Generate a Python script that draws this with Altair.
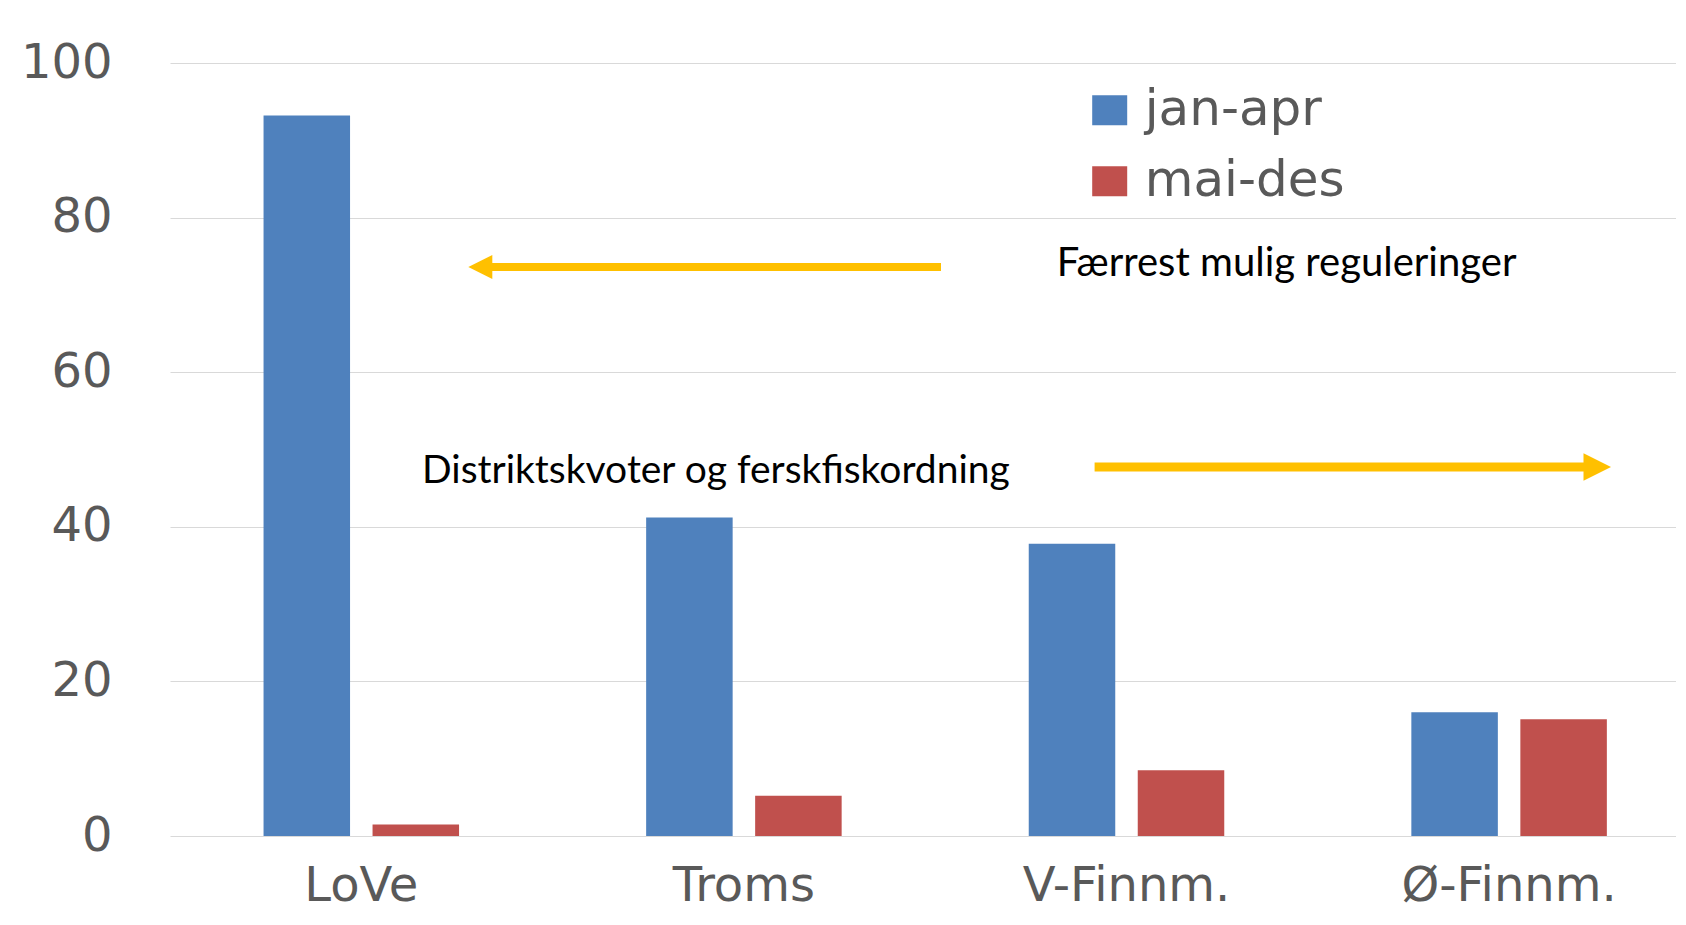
import altair as alt
import pandas as pd

# ---- data ----
regions = ["LoVe", "Troms", "V-Finnm.", "Ø-Finnm."]
periods = ["jan-apr", "mai-des"]
jan_apr = [93.2, 41.2, 37.8, 16.0]
mai_des = [1.5, 5.2, 8.5, 15.1]
y_ticks = [0, 20, 40, 60, 80, 100]

notes = ["Færrest mulig reguleringer", "Distriktskvoter og ferskfiskordning"]
note_levels = [72.4, 45.7]      # text baselines, in axis units
arrow_levels = [73.6, 47.75]    # arrow heights, in axis units

# ---- styles ----
colors = ["#4F81BD", "#C0504D"]
arrow_color = "#FFC000"
gray = "#595959"

df = pd.DataFrame({
    "region": regions * 2,
    "period": [periods[0]] * len(regions) + [periods[1]] * len(regions),
    "value": jan_apr + mai_des,
})

y_enc = alt.Y(
    "value:Q",
    scale=alt.Scale(domain=[0, 100], nice=False, zero=True),
    axis=alt.Axis(values=y_ticks, title=None, labelFontSize=48, labelColor=gray,
                  labelFont="DejaVu Sans", labelPadding=58, ticks=False, tickSize=0,
                  domain=False, grid=True, gridColor="#d9d9d9", gridWidth=1.2),
)

bars = alt.Chart(df).mark_bar().encode(
    x=alt.X("region:N", sort=regions,
            scale=alt.Scale(range=[0, 1530.4], paddingInner=0.489, paddingOuter=0.2445),
            axis=alt.Axis(title=None, labelAngle=0, labelFontSize=48, labelColor=gray,
                          labelFont="DejaVu Sans", labelPadding=26, labelLimit=600,
                          ticks=False, tickSize=0, domain=False, grid=False)),
    xOffset=alt.XOffset("period:N", sort=periods,
                        scale=alt.Scale(paddingInner=0.2064, paddingOuter=0)),
    y=y_enc,
    color=alt.Color("period:N", sort=periods,
                    scale=alt.Scale(domain=periods, range=colors),
                    legend=alt.Legend(orient="none", legendX=914.7, legendY=22.3, title=None,
                                      labelFontSize=50, labelColor=gray, labelFont="DejaVu Sans",
                                      labelLimit=600,
                                      symbolType="M-1,-0.857L1,-0.857L1,0.857L-1,0.857Z",
                                      symbolSize=1225, symbolStrokeWidth=0, symbolOpacity=1,
                                      rowPadding=21, labelOffset=10, padding=0)),
)

left_df = pd.DataFrame({"value": [arrow_levels[0]]})
right_df = pd.DataFrame({"value": [arrow_levels[1]]})

left_shaft = alt.Chart(left_df).mark_rule(color=arrow_color, strokeWidth=8).encode(
    x=alt.value(322), x2=alt.value(771), y=y_enc)
left_head = alt.Chart(left_df).mark_point(
    shape="M1,-1L-1,0L1,1Z", filled=True, size=576, color=arrow_color, opacity=1, strokeWidth=0
).encode(x=alt.value(310.3), y=y_enc)

right_shaft = alt.Chart(right_df).mark_rule(color=arrow_color, strokeWidth=9).encode(
    x=alt.value(924.6), x2=alt.value(1414), y=y_enc)
right_head = alt.Chart(right_df).mark_point(
    shape="M-1,-1L1,0L-1,1Z", filled=True, size=756, color=arrow_color, opacity=1, strokeWidth=0
).encode(x=alt.value(1427.25), y=y_enc)

text1 = alt.Chart(pd.DataFrame({"note": [notes[0]], "value": [note_levels[0]]})).mark_text(
    align="left", baseline="alphabetic", font="Lato", fontSize=40, color="black"
).encode(x=alt.value(886.7), y=y_enc, text="note:N")
text2 = alt.Chart(pd.DataFrame({"note": [notes[1]], "value": [note_levels[1]]})).mark_text(
    align="left", baseline="alphabetic", font="Lato", fontSize=39, color="black"
).encode(x=alt.value(252), y=y_enc, text="note:N")

chart = alt.layer(
    bars, left_shaft, left_head, right_shaft, right_head, text1, text2
).properties(
    width=1506, height=773,
    autosize=alt.AutoSizeParams(type="none"),
    padding={"left": 162, "top": 55, "right": 0, "bottom": 75},
    background="white",
).configure_view(stroke=None)

chart.save("out.html", embed_options={"renderer": "svg", "actions": False})
